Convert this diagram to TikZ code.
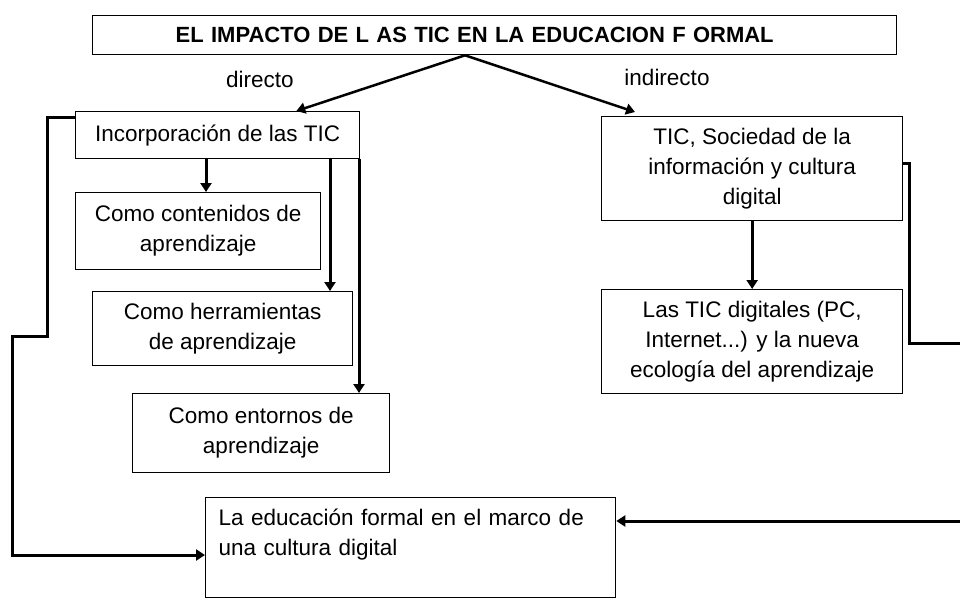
\documentclass[tikz,border=0pt]{standalone}
\usepackage{fontspec}
\setmainfont{Liberation Sans}
\usetikzlibrary{arrows.meta}

\begin{document}
\begin{tikzpicture}[x=1pt,y=-1pt,>={Triangle[length=9pt,width=11pt]},
  box/.style={draw,line width=1.3pt,anchor=north west,align=center,inner sep=0pt},
  conn/.style={->,line width=3pt},
  lab/.style={inner sep=0pt},
  font=\fontsize{22.5}{30}\selectfont]
  \useasboundingbox (0,0) rectangle (960,598);
  % boxes
  \node[box,minimum width=804pt,minimum height=39pt,text width=638pt,align=left,
        inner xsep=83pt,font=\bfseries\fontsize{22}{26}\selectfont]
    (title) at (92,15) {EL IMPACTO DE L AS TIC EN LA EDUCACION F ORMAL};
  \node[box,minimum width=284pt,minimum height=47pt] (incorp) at (75,111) {Incorporación de las TIC};
  \node[box,minimum width=245pt,minimum height=77pt] (cont) at (75,192) {Como contenidos de\\aprendizaje};
  \node[box,minimum width=260pt,minimum height=74pt] (herr) at (92,291) {Como herramientas\\de aprendizaje};
  \node[box,minimum width=257pt,minimum height=79pt] (ent) at (132,393) {Como entornos de\\aprendizaje};
  \node[box,minimum width=301pt,minimum height=104pt] (soc) at (601,116)
    {TIC, Sociedad de la\\información y cultura\\digital};
  \node[box,minimum width=301pt,minimum height=104pt] (dig) at (601,289)
    {Las TIC digitales (PC,\\Internet...) y la nueva\\ecología del aprendizaje};
  \node[box,minimum width=410pt,minimum height=100pt,align=left,text width=384pt]
    (edu) at (205,497) {La educación formal en el marco de\\una cultura digital\\\mbox{}};
  % labels
  \node[lab] (dirLab) at (260,79) {directo};
  \node[lab] (indLab) at (667,77) {indirecto};
  % title branches
  \coordinate (apex) at ([xshift=373pt]title.south west);
  \draw[conn,line width=2.5pt] (apex) -- ([xshift=-64pt]incorp.north east);
  \draw[conn,line width=2.5pt] (apex) -- ([xshift=34pt,yshift=4pt]soc.north west);
  % direct branch
  \foreach \dx/\dst in {131/cont,255/herr,284/ent}
    \draw[conn] ([xshift=\dx pt]incorp.south west) coordinate (src) -- (src |- \dst.north);
  \draw[conn] ([yshift=-6pt]incorp.north west) -| (47,336) -| (12,555)
    -- ([yshift=-58pt]edu.north west);
  % indirect branch
  \draw[conn] (soc.south) -- (dig.north);
  \coordinate (rEdgeA) at (960,343);
  \coordinate (rEdgeB) at (960,521);
  \draw[line width=3pt] ([yshift=-47pt]soc.north east) -| (909,343) -- (rEdgeA);
  \draw[conn] (rEdgeB) -- ([yshift=-24pt]edu.north east);
\end{tikzpicture}
\end{document}
